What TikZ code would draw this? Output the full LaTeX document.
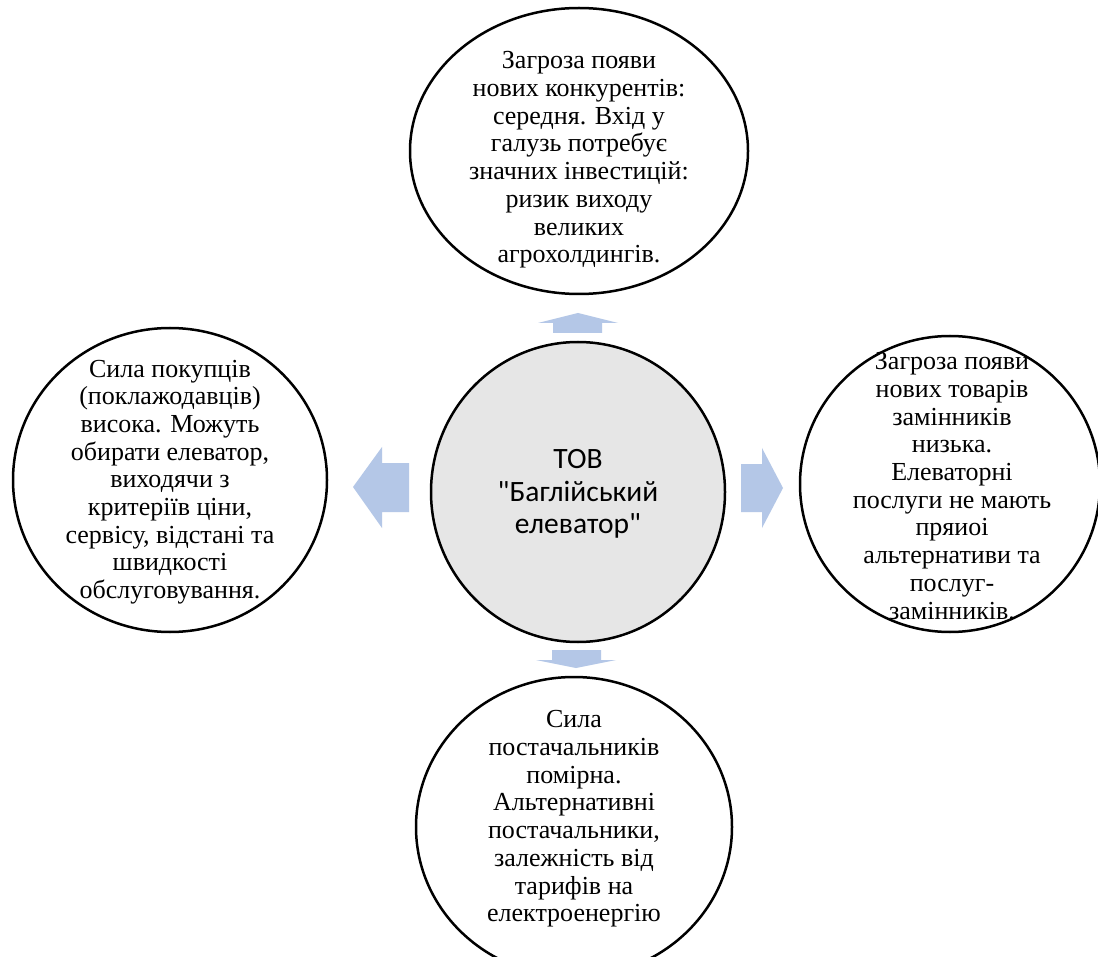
\documentclass[tikz,border=0pt]{standalone}
\usepackage{fontspec}
\setmainfont{Liberation Serif}
\newfontfamily\carlito{Carlito}
\usetikzlibrary{shapes.geometric}
\definecolor{arrowblue}{HTML}{B4C7E7}
\definecolor{centergray}{HTML}{E6E6E6}
\begin{document}
\begin{tikzpicture}[x=1pt,y=-1pt,
  force/.style={ellipse, draw=black, line width=2.5pt, fill=white, inner sep=0pt},
  ftext/.style={align=center, font=\fontsize{26}{27.7}\selectfont, inner sep=0pt},
  ctext/.style={align=center, font=\carlito\fontsize{29.5}{32.5}\selectfont, inner sep=0pt},
  barrow/.style={fill=arrowblue}]
\clip (0,0) rectangle (1098,957);
\fill[white] (0,0) rectangle (1098,957);
% circles
\node[force, fill=centergray, minimum width=294pt, minimum height=300pt] (center) at (578,492) {};
\node[force, minimum width=338pt, minimum height=286pt] (top) at (579,151) {};
\node[force, minimum width=314pt, minimum height=304pt] (left) at (170,480) {};
\node[force, minimum width=300pt, minimum height=296pt] (right) at (950,484) {};
\node[force, minimum width=316pt, minimum height=300pt] (bottom) at (574,827) {};
% block arrows
\fill[barrow] (553,333) -- (553,323) -- (538,323) -- (578,313) -- (618,323) -- (602,323) -- (602,333) -- cycle;
\fill[barrow] (409,463) -- (382,463) -- (382,447) -- (353,487) -- (382,528) -- (382,512) -- (409,512) -- cycle;
\fill[barrow] (741,464) -- (762,464) -- (762,448) -- (783,488) -- (762,528) -- (762,512) -- (741,512) -- cycle;
\fill[barrow] (552,650) -- (601,650) -- (601,660) -- (616,660) -- (576,668) -- (536,660) -- (552,660) -- cycle;
% texts
\node[ctext] (ctxt) at (578,494) {ТОВ\\"Баглійський\\елеватор"};
\node[ftext] (ttxt) at (579,160) {Загроза появи\\нових конкурентів:\\середня. Вхід у\\галузь потребує\\значних інвестицій:\\ризик виходу\\великих\\агрохолдингів.};
\node[ftext] (ltxt) at (170,482) {Сила покупців\\(поклажодавців)\\висока. Можуть\\обирати елеватор,\\виходячи з\\критеріїв ціни,\\сервісу, відстані та\\швидкості\\обслуговування.};
\node[ftext] (rtxt) at (952,486) {Загроза появи\\нових товарів\\замінників\\низька.\\Елеваторні\\послуги не мають\\пряиоі\\альтернативи та\\послуг-\\замінників.};
\node[ftext] (btxt) at (574,819) {Сила\\постачальників\\помірна.\\Альтернативні\\постачальники,\\залежність від\\тарифів на\\електроенергію};
\end{tikzpicture}
\end{document}
